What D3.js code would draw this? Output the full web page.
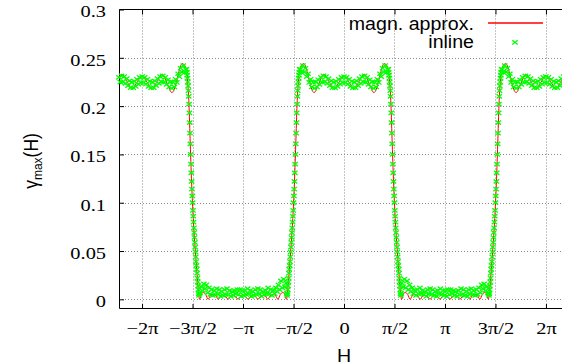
<!DOCTYPE html>
<html>
<head>
<meta charset="utf-8">
<script src="https://cdnjs.cloudflare.com/ajax/libs/d3/7.8.5/d3.min.js"></script>
<style>
  body { margin: 0; background: #fff; }
  svg { display: block; }
</style>
</head>
<body>
<svg id="plot" width="562" height="364"></svg>
<script>
// ticks: multiples of pi/2 on x, 0.05 steps on y
var xTickValues = [-6.2832, -4.7124, -3.1416, -1.5708, 0, 1.5708, 3.1416, 4.7124, 6.2832];
var xTickLabels = ["\u22122\u03c0", "\u22123\u03c0/2", "\u2212\u03c0", "\u2212\u03c0/2", "0", "\u03c0/2", "\u03c0", "3\u03c0/2", "2\u03c0"];
var yTickValues = [0, 0.05, 0.1, 0.15, 0.2, 0.25, 0.3];
var yTickLabels = ["0", "0.05", "0.1", "0.15", "0.2", "0.25", "0.3"];

var seriesNames = ["magn. approx.", "inline"];

// magn. approx. (red line) at extrema / knees
var approxH = [
  -7.000, -6.913, -6.753, -6.603, -6.443, -6.283, -6.123, -5.963, -5.813, -5.653, -5.503, -5.353, -5.283, -5.183,
  -5.083, -5.023, -4.963, -4.903, -4.863, -4.823, -4.783, -4.733, -4.683, -4.633, -4.583, -4.533, -4.493,
  -4.432, -4.372, -4.302, -4.227, -4.152, -4.072, -3.992, -3.917, -3.842, -3.762, -3.682, -3.607, -3.532, -3.452,
  -3.372, -3.297, -3.222, -3.142, -3.062, -2.987, -2.912, -2.832, -2.752, -2.677, -2.602, -2.522, -2.442, -2.367,
  -2.292, -2.212, -2.132, -2.057, -1.982, -1.912, -1.852, -1.790,
  -1.750, -1.700, -1.650, -1.600, -1.550, -1.500, -1.460, -1.420, -1.380, -1.320, -1.260, -1.200, -1.100, -1.000,
  -0.930, -0.780, -0.630, -0.470, -0.320, -0.160, 0.000, 0.160, 0.320, 0.470, 0.630, 0.780, 0.930, 1.000, 1.100,
  1.200, 1.260, 1.320, 1.380, 1.420, 1.460, 1.500, 1.550, 1.600, 1.650, 1.700, 1.750, 1.790,
  1.852, 1.912, 1.982, 2.057, 2.132, 2.212, 2.292, 2.367, 2.442, 2.522, 2.602, 2.677, 2.752, 2.832, 2.912, 2.987,
  3.062, 3.142, 3.222, 3.297, 3.372, 3.452, 3.532, 3.607, 3.682, 3.762, 3.842, 3.917, 3.992, 4.072, 4.152, 4.227,
  4.302, 4.372, 4.432, 4.493,
  4.533, 4.583, 4.633, 4.683, 4.733, 4.783, 4.823, 4.863, 4.903, 4.963, 5.023, 5.083, 5.183, 5.283, 5.353, 5.503,
  5.653, 5.813, 5.963, 6.123, 6.283, 6.443, 6.603, 6.753, 6.913, 7.000
];
var approxV = [
  0.2293, 0.2330, 0.2255, 0.2180, 0.2245, 0.2310, 0.2245, 0.2180, 0.2255, 0.2330, 0.2235, 0.2140, 0.2172, 0.2290,
  0.2417, 0.2440, 0.2425, 0.2380, 0.2250, 0.2020, 0.1610, 0.1140, 0.0800, 0.0540, 0.0310, 0.0100, 0.0000,
  0.006, 0.007, 0.005, 0.000, 0.004, 0.005, 0.004, 0.000, 0.003, 0.004, 0.003, 0.000, 0.003, 0.004,
  0.003, 0.000, 0.003, 0.004, 0.003, 0.000, 0.003, 0.004, 0.003, 0.000, 0.003, 0.004, 0.003, 0.000,
  0.004, 0.005, 0.004, 0.000, 0.005, 0.007, 0.006, 0.000,
  0.010, 0.031, 0.054, 0.080, 0.114, 0.161, 0.202, 0.225, 0.238, 0.2425, 0.244, 0.2417, 0.229, 0.2172,
  0.214, 0.2235, 0.233, 0.2255, 0.218, 0.2245, 0.231, 0.2245, 0.218, 0.2255, 0.233, 0.2235, 0.214, 0.2172, 0.229,
  0.2417, 0.244, 0.2425, 0.238, 0.225, 0.202, 0.161, 0.114, 0.080, 0.054, 0.031, 0.010, 0.000,
  0.006, 0.007, 0.005, 0.000, 0.004, 0.005, 0.004, 0.000, 0.003, 0.004, 0.003, 0.000, 0.003, 0.004, 0.003, 0.000,
  0.003, 0.004, 0.003, 0.000, 0.003, 0.004, 0.003, 0.000, 0.003, 0.004, 0.003, 0.000, 0.004, 0.005, 0.004, 0.000,
  0.005, 0.007, 0.006, 0.000,
  0.010, 0.031, 0.054, 0.080, 0.114, 0.161, 0.202, 0.225, 0.238, 0.2425, 0.244, 0.2417, 0.229, 0.2172, 0.214, 0.2235,
  0.233, 0.2255, 0.218, 0.2245, 0.231, 0.2245, 0.218, 0.2255, 0.233, 0.2293
];

// inline (green crosses), sampled piecewise: plateaus every 0.04, edges every 0.01
var inlineHigh1 = [ // H -7.00 .. -4.92
  0.2298, 0.2248, 0.2313, 0.2252, 0.2306, 0.2236, 0.2284, 0.2212, 0.2260, 0.2191,
  0.2248, 0.2190, 0.2256, 0.2205, 0.2276, 0.2227, 0.2297, 0.2243, 0.2305, 0.2243,
  0.2297, 0.2227, 0.2276, 0.2205, 0.2256, 0.2190, 0.2248, 0.2191, 0.2260, 0.2212,
  0.2284, 0.2236, 0.2306, 0.2252, 0.2313, 0.2248, 0.2298, 0.2225, 0.2272, 0.2199,
  0.2250, 0.2185, 0.2247, 0.2198, 0.2278, 0.2246, 0.2335, 0.2305, 0.2392, 0.2353,
  0.2420, 0.2348, 0.2380
];
var inlineDrop1 = [ // H -4.90 .. -4.50
  0.238, 0.235, 0.232, 0.229, 0.225, 0.221, 0.216, 0.210, 0.202, 0.193, 0.183, 0.172, 0.161, 0.150,
  0.140, 0.131, 0.122, 0.114, 0.107, 0.100, 0.092, 0.086, 0.080, 0.074, 0.069, 0.064, 0.059, 0.054,
  0.049, 0.044, 0.039, 0.035, 0.031, 0.027, 0.022, 0.018, 0.014, 0.010, 0.006, 0.004, 0.006
];
var inlineLow1 = [ // H -4.48 .. -1.80
  0.007, 0.013, 0.009, 0.016, 0.011, 0.015, 0.007, 0.012, 0.005, 0.010,
  0.004, 0.009, 0.005, 0.011, 0.006, 0.010, 0.003, 0.008,
  0.004, 0.010, 0.005, 0.011, 0.005, 0.009, 0.003, 0.008,
  0.004, 0.009, 0.006, 0.010, 0.005, 0.010, 0.003, 0.009,
  0.004, 0.009, 0.005, 0.011, 0.006, 0.009, 0.003, 0.008,
  0.004, 0.010, 0.005, 0.011, 0.006, 0.010, 0.003, 0.008,
  0.005, 0.009, 0.006, 0.012, 0.006, 0.010, 0.004, 0.009,
  0.006, 0.012, 0.008, 0.015, 0.010, 0.019, 0.012, 0.021, 0.013, 0.017
];
var inlineRise1 = [ // H -1.78 .. -1.38
  0.006, 0.004, 0.006, 0.010, 0.014, 0.018, 0.022, 0.027, 0.031, 0.035, 0.039, 0.044, 0.049, 0.054,
  0.059, 0.064, 0.069, 0.074, 0.080, 0.086, 0.092, 0.100, 0.107, 0.114, 0.122, 0.131, 0.140, 0.150,
  0.161, 0.172, 0.183, 0.193, 0.202, 0.210, 0.216, 0.221, 0.225, 0.229, 0.232, 0.235, 0.238
];
var inlineHigh2 = [ // H -1.36 .. 1.36
  0.2380, 0.2348, 0.2420, 0.2353, 0.2392, 0.2305, 0.2335, 0.2246, 0.2278, 0.2198,
  0.2247, 0.2185, 0.2250, 0.2199, 0.2272, 0.2225, 0.2298, 0.2248, 0.2313, 0.2252,
  0.2306, 0.2236, 0.2284, 0.2212, 0.2260, 0.2191, 0.2248, 0.2190, 0.2256, 0.2205,
  0.2276, 0.2227, 0.2297, 0.2243, 0.2305, 0.2243, 0.2297, 0.2227, 0.2276, 0.2205,
  0.2256, 0.2190, 0.2248, 0.2191, 0.2260, 0.2212, 0.2284, 0.2236, 0.2306, 0.2252,
  0.2313, 0.2248, 0.2298, 0.2225, 0.2272, 0.2199, 0.2250, 0.2185, 0.2247, 0.2198,
  0.2278, 0.2246, 0.2335, 0.2305, 0.2392, 0.2353, 0.2420, 0.2348, 0.2380
];
var inlineDrop2 = [ // H 1.38 .. 1.78
  0.238, 0.235, 0.232, 0.229, 0.225, 0.221, 0.216, 0.210, 0.202, 0.193, 0.183, 0.172, 0.161, 0.150,
  0.140, 0.131, 0.122, 0.114, 0.107, 0.100, 0.092, 0.086, 0.080, 0.074, 0.069, 0.064, 0.059, 0.054,
  0.049, 0.044, 0.039, 0.035, 0.031, 0.027, 0.022, 0.018, 0.014, 0.010, 0.006, 0.004, 0.006
];
var inlineLow2 = [ // H 1.80 .. 4.48
  0.017, 0.013, 0.021, 0.012, 0.019, 0.010, 0.015, 0.008, 0.012, 0.006,
  0.009, 0.004, 0.010, 0.006, 0.012, 0.006, 0.009, 0.005,
  0.008, 0.003, 0.010, 0.006, 0.011, 0.005, 0.010, 0.004,
  0.008, 0.003, 0.009, 0.006, 0.011, 0.005, 0.009, 0.004,
  0.009, 0.003, 0.010, 0.005, 0.010, 0.006, 0.009, 0.004,
  0.008, 0.003, 0.009, 0.005, 0.011, 0.005, 0.010, 0.004,
  0.008, 0.003, 0.010, 0.006, 0.011, 0.005, 0.009, 0.004,
  0.010, 0.005, 0.012, 0.007, 0.015, 0.011, 0.016, 0.009, 0.013, 0.007
];
var inlineRise2 = [ // H 4.50 .. 4.90
  0.006, 0.004, 0.006, 0.010, 0.014, 0.018, 0.022, 0.027, 0.031, 0.035, 0.039, 0.044, 0.049, 0.054,
  0.059, 0.064, 0.069, 0.074, 0.080, 0.086, 0.092, 0.100, 0.107, 0.114, 0.122, 0.131, 0.140, 0.150,
  0.161, 0.172, 0.183, 0.193, 0.202, 0.210, 0.216, 0.221, 0.225, 0.229, 0.232, 0.235, 0.238
];
var inlineHigh3 = [ // H 4.92 .. 7.00
  0.2380, 0.2348, 0.2420, 0.2353, 0.2392, 0.2305, 0.2335, 0.2246, 0.2278, 0.2198,
  0.2247, 0.2185, 0.2250, 0.2199, 0.2272, 0.2225, 0.2298, 0.2248, 0.2313, 0.2252,
  0.2306, 0.2236, 0.2284, 0.2212, 0.2260, 0.2191, 0.2248, 0.2190, 0.2256, 0.2205,
  0.2276, 0.2227, 0.2297, 0.2243, 0.2305, 0.2243, 0.2297, 0.2227, 0.2276, 0.2205,
  0.2256, 0.2190, 0.2248, 0.2191, 0.2260, 0.2212, 0.2284, 0.2236, 0.2306, 0.2252,
  0.2313, 0.2248, 0.2298
];

// where each piece starts and its sample step (in H)
var inlinePieces = [
  { h0: -7.00, dh: 0.04, v: inlineHigh1 },
  { h0: -4.90, dh: 0.01, v: inlineDrop1 },
  { h0: -4.48, dh: 0.04, v: inlineLow1 },
  { h0: -1.78, dh: 0.01, v: inlineRise1 },
  { h0: -1.36, dh: 0.04, v: inlineHigh2 },
  { h0: 1.38, dh: 0.01, v: inlineDrop2 },
  { h0: 1.80, dh: 0.04, v: inlineLow2 },
  { h0: 4.50, dh: 0.01, v: inlineRise2 },
  { h0: 4.92, dh: 0.04, v: inlineHigh3 }
];

var approx = d3.zip(approxH, approxV);
var inline = [];
inlinePieces.forEach(function(p) {
  p.v.forEach(function(v, i) { inline.push([p.h0 + i * p.dh, v]); });
});

var serif = "'Liberation Serif', 'Times New Roman', 'DejaVu Serif', serif";
var sans = "'Liberation Sans', Arial, Helvetica, sans-serif";

var svg = d3.select("#plot");
var x = d3.scaleLinear().domain([-7, 7]).range([119, 569]);
var y = d3.scaleLinear().domain([-0.01, 0.3]).range([309, 9.5]);

// dotted grid
var grid = svg.append("g")
  .attr("stroke", "#8a8a8a")
  .attr("stroke-width", 1)
  .attr("stroke-dasharray", "1,2");
grid.selectAll("line.gx").data(xTickValues).join("line")
  .attr("class", "gx")
  .attr("x1", function(d) { return Math.round(x(d)) + 0.5; })
  .attr("x2", function(d) { return Math.round(x(d)) + 0.5; })
  .attr("y1", y(0.3)).attr("y2", y(-0.01));
grid.selectAll("line.gy").data(yTickValues.slice(0, -1)).join("line")
  .attr("class", "gy")
  .attr("y1", function(d) { return Math.round(y(d)) + 0.5; })
  .attr("y2", function(d) { return Math.round(y(d)) + 0.5; })
  .attr("x1", x(-7)).attr("x2", x(7));

// border
svg.append("path")
  .attr("d", "M" + x(7) + ",9.5H119.5V308.5H" + x(7))
  .attr("fill", "none").attr("stroke", "#000").attr("stroke-width", 1);

// axes (ticks point inward, mirrored on top)
svg.append("g")
  .attr("transform", "translate(0,309)")
  .call(d3.axisBottom(x).tickValues(xTickValues)
    .tickFormat(function(d, i) { return xTickLabels[i]; })
    .tickSizeInner(-5).tickSizeOuter(0).tickPadding(12.5))
  .call(function(g) { g.select(".domain").remove(); })
  .call(function(g) {
    g.selectAll("text").style("font-family", serif).style("font-size", "17px")
      .attr("fill", "#000").attr("transform", "scale(1.2,1)");
  });

svg.append("g")
  .attr("transform", "translate(0,9.5)")
  .call(d3.axisTop(x).tickValues(xTickValues).tickFormat(function() { return ""; })
    .tickSizeInner(-5).tickSizeOuter(0))
  .call(function(g) { g.select(".domain").remove(); });

svg.append("g")
  .attr("transform", "translate(119,0)")
  .call(d3.axisLeft(y).tickValues(yTickValues)
    .tickFormat(function(d, i) { return yTickLabels[i]; })
    .tickSizeInner(-5).tickSizeOuter(0).tickPadding(10.8))
  .call(function(g) { g.select(".domain").remove(); })
  .call(function(g) {
    g.selectAll("text").style("font-family", serif).style("font-size", "17px")
      .attr("fill", "#000").attr("dy", "0.43em").attr("transform", "scale(1.2,1)");
  });

// axis titles
var yTitle = svg.append("text")
  .attr("transform", "translate(38,161) rotate(-90) scale(1,1.12)")
  .attr("text-anchor", "middle")
  .style("font-family", sans).style("font-size", "17.5px");
yTitle.append("tspan").text("\u03b3");
yTitle.append("tspan").style("font-size", "12px").attr("dy", 4).text("max");
yTitle.append("tspan").attr("dy", -4).text("(H)");

svg.append("text")
  .attr("transform", "translate(344,361.5) scale(1.12,1)")
  .attr("text-anchor", "middle")
  .style("font-family", sans).style("font-size", "17.5px")
  .text("H");

// red line first, green crosses over it
var line = d3.line()
  .x(function(d) { return x(d[0]); })
  .y(function(d) { return y(d[1]); })
  .curve(d3.curveMonotoneX);

svg.append("path")
  .datum(approx)
  .attr("d", line)
  .attr("fill", "none").attr("stroke", "#ff0000").attr("stroke-width", 1);

var cross = function(px, py) {
  return "M" + (px - 2.7) + "," + (py - 2.1) + "L" + (px + 2.7) + "," + (py + 2.1) +
    "M" + (px - 2.7) + "," + (py + 2.1) + "L" + (px + 2.7) + "," + (py - 2.1);
};

svg.append("g")
  .attr("stroke", "#00ff00").attr("stroke-width", 1.3).attr("fill", "none")
  .selectAll("path").data(inline).join("path")
  .attr("d", function(d) { return cross(x(d[0]), y(d[1])); });

// legend
var legend = svg.append("g").style("font-family", sans).style("font-size", "17.5px");
legend.append("text")
  .attr("transform", "translate(474,29.5) scale(1.12,1)")
  .attr("text-anchor", "end").text(seriesNames[0]);
legend.append("path")
  .attr("d", "M488,23H543")
  .style("stroke", "#ff0000").style("stroke-width", "1.3px").style("fill", "none");
legend.append("text")
  .attr("transform", "translate(474,48) scale(1.12,1)")
  .attr("text-anchor", "end").text(seriesNames[1]);
legend.append("path")
  .attr("d", cross(515, 42.3))
  .style("stroke", "#00ff00").style("stroke-width", "1.3px").style("fill", "none");
</script>
</body>
</html>
